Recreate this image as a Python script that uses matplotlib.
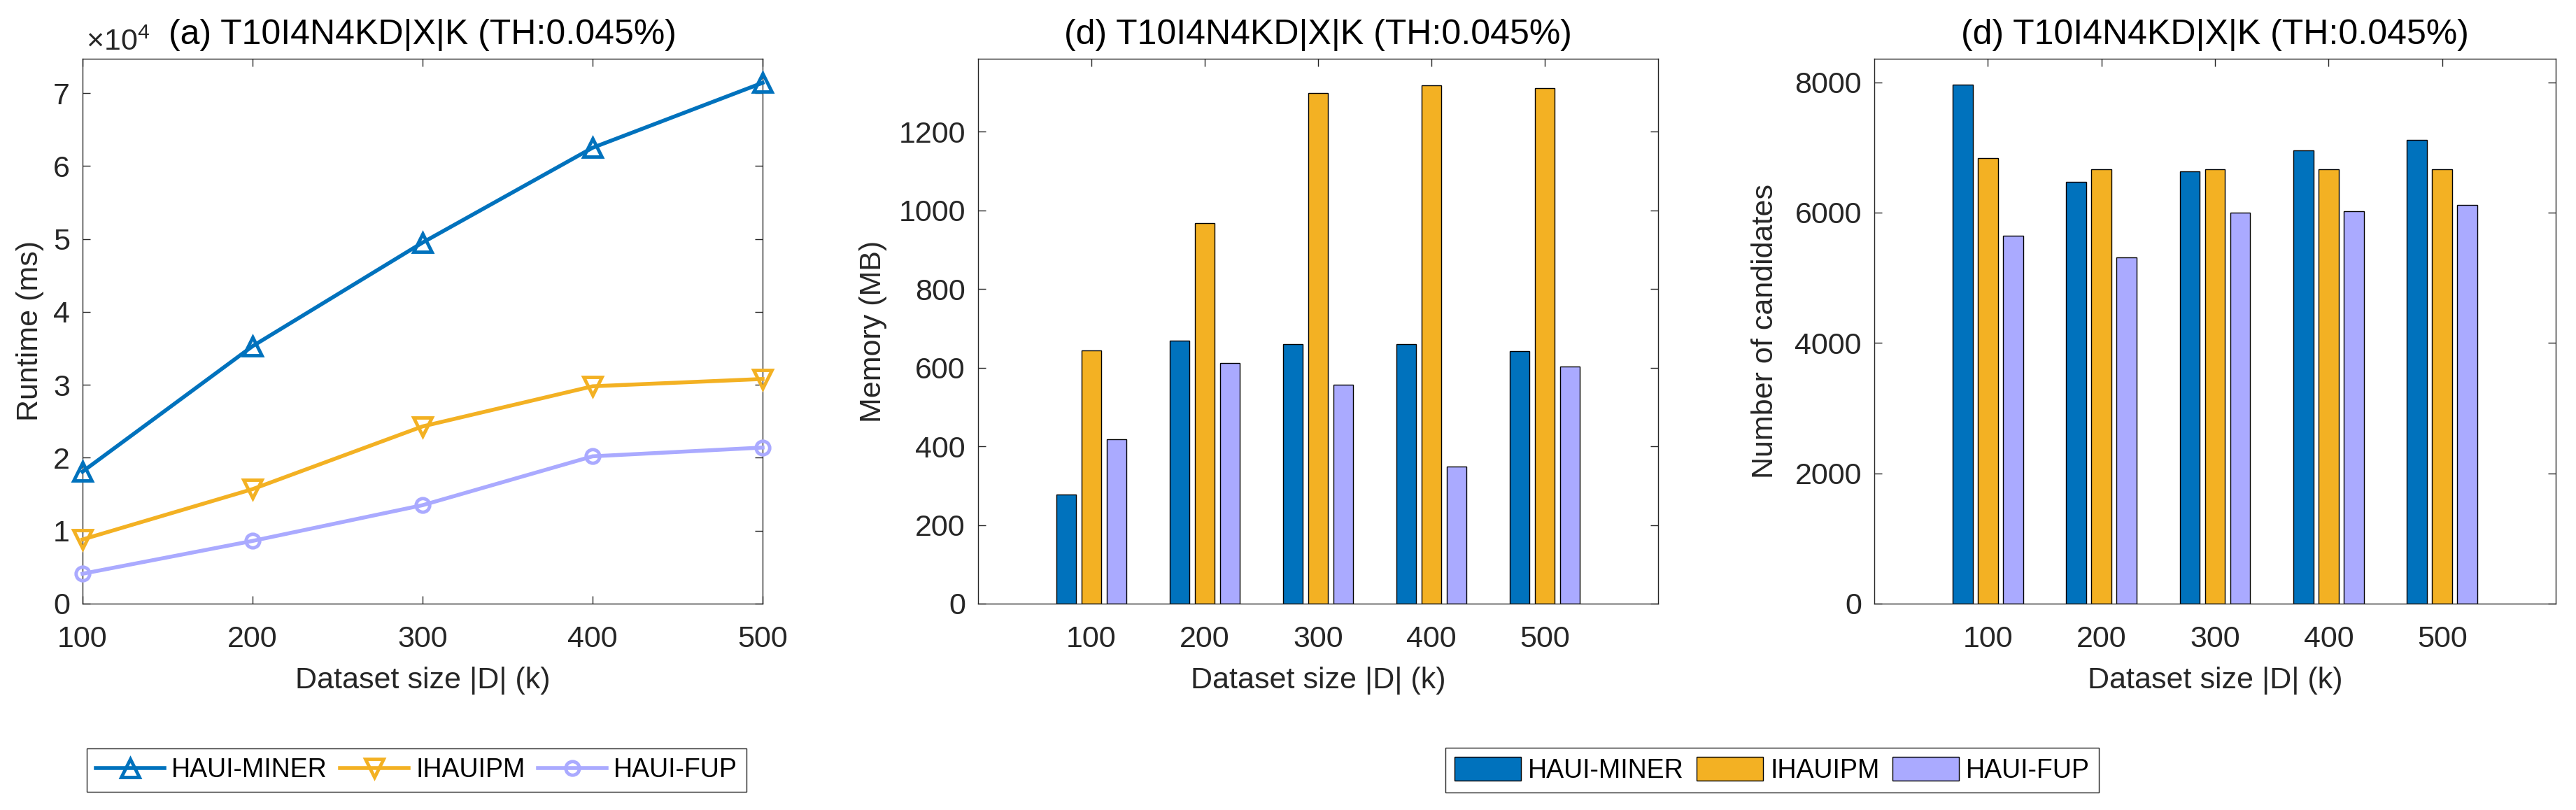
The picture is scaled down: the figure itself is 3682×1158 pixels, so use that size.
"""
plot.py
-------
Runtime / memory / candidate comparison of HAUI-MINER, IHAUIPM and HAUI-FUP
on T10I4N4KD|X|K with a growing dataset size.
"""

import numpy as np
import matplotlib
matplotlib.use("Agg")
import matplotlib.pyplot as plt

# ---------------------------------------------------------------------------
# Data
# ---------------------------------------------------------------------------
ALGORITHMS = ["HAUI-MINER", "IHAUIPM", "HAUI-FUP"]
DATASET_SIZES = [100, 200, 300, 400, 500]  # |D| in k

# runtime in ms
RUNTIME_MINER = [18100, 35300, 49500, 62500, 71400]
RUNTIME_IHAUIPM = [8800, 15700, 24300, 29800, 30800]
RUNTIME_FUP = [4100, 8600, 13500, 20200, 21400]

# memory in MB
MEMORY_MINER = [278, 669, 660, 660, 642]
MEMORY_IHAUIPM = [643, 967, 1298, 1317, 1310]
MEMORY_FUP = [418, 611, 556, 348, 603]

# number of candidates
CAND_MINER = [7963, 6476, 6637, 6955, 7117]
CAND_IHAUIPM = [6840, 6668, 6668, 6668, 6668]
CAND_FUP = [5644, 5317, 6000, 6024, 6117]

TITLE_A = "(a) T10I4N4KD|X|K (TH:0.045%)"
TITLE_D = "(d) T10I4N4KD|X|K (TH:0.045%)"
XLABEL = "Dataset size |D| (k)"

# ---------------------------------------------------------------------------
# Style
# ---------------------------------------------------------------------------
COLORS = ["#0072BD", "#F3B123", "#AAAAFF"]
MARKERS = ["^", "v", "o"]
MARKER_SIZES = [19, 19, 14]
AX_COLOR = "#262626"

plt.rcParams["font.family"] = ["Liberation Sans", "DejaVu Sans"]
plt.rcParams["mathtext.fontset"] = "custom"
plt.rcParams["mathtext.rm"] = "Liberation Sans"
plt.rcParams["mathtext.it"] = "Liberation Sans:italic"

FIG_W, FIG_H = 3682, 1158
DPI = 100


def px_box(x0, x1, y0, y1):
    """Axes rectangle from pixel edges (top-left origin) to figure fractions."""
    return [x0 / FIG_W, 1 - y1 / FIG_H, (x1 - x0) / FIG_W, (y1 - y0) / FIG_H]


def style_axes(ax, ylabel, ylabel_x):
    for sp in ax.spines.values():
        sp.set_color(AX_COLOR)
        sp.set_linewidth(1.0)
    ax.tick_params(direction="in", length=7.7, width=1.0, color=AX_COLOR,
                   labelcolor=AX_COLOR, labelsize=31, top=True, right=True)
    ax.tick_params(axis="x", pad=22)
    ax.tick_params(axis="y", pad=13)
    ax.set_xlabel(XLABEL, fontsize=31, color=AX_COLOR)
    ax.xaxis.set_label_coords(0.5, -0.115)
    ax.set_ylabel(ylabel, fontsize=31, color=AX_COLOR)
    ax.yaxis.set_label_coords(ylabel_x, 0.5)


def grouped_bars(ax, series, ylim, yticks):
    x = np.array(DATASET_SIZES, dtype=float)
    slot = 22.2  # spacing between bars inside a group
    width = 17.8
    for i, (vals, color) in enumerate(zip(series, COLORS)):
        ax.bar(x + (i - 1) * slot, vals, width=width, color=color,
               edgecolor="black", linewidth=1.0, label=ALGORITHMS[i], zorder=2)
    ax.set_xlim(0, 600)
    ax.set_xticks(DATASET_SIZES)
    ax.set_ylim(*ylim)
    ax.set_yticks(yticks)


fig = plt.figure(figsize=(FIG_W / DPI, FIG_H / DPI), dpi=DPI)

ax1 = fig.add_axes(px_box(118, 1090, 84, 863))
ax2 = fig.add_axes(px_box(1398, 2370, 84, 863))
ax3 = fig.add_axes(px_box(2679, 3653, 84, 863))

# --- (a) runtime -----------------------------------------------------------
runtimes = [RUNTIME_MINER, RUNTIME_IHAUIPM, RUNTIME_FUP]
for vals, color, mk, ms, name in zip(runtimes, COLORS, MARKERS, MARKER_SIZES, ALGORITHMS):
    ax1.plot(DATASET_SIZES, vals, color=color, linewidth=4.0, marker=mk,
             markersize=ms, markerfacecolor="none", markeredgewidth=3.5,
             label=name, clip_on=False, zorder=3)
ax1.set_xlim(100, 500)
ax1.set_xticks(DATASET_SIZES)
ax1.set_ylim(0, 74700)
ax1.set_yticks(np.arange(0, 8) * 1e4)
ax1.yaxis.set_major_formatter(plt.FuncFormatter(lambda v, p: f"{v / 1e4:g}"))
ax1.text(0.005, 1.0154, r"$\times\mathregular{10^{4}}$", transform=ax1.transAxes,
         fontsize=31, color=AX_COLOR, va="baseline", ha="left")
style_axes(ax1, "Runtime (ms)", -0.0566)
ax1.set_title(TITLE_A, fontsize=36, color="black", pad=15)

# --- (d) memory ------------------------------------------------------------
grouped_bars(ax2, [MEMORY_MINER, MEMORY_IHAUIPM, MEMORY_FUP],
             (0, 1385), np.arange(0, 1201, 200))
style_axes(ax2, "Memory (MB)", -0.134)
ax2.set_title(TITLE_D, fontsize=36, color="black", pad=15)

# --- (d) candidates --------------------------------------------------------
grouped_bars(ax3, [CAND_MINER, CAND_IHAUIPM, CAND_FUP],
             (0, 8360), np.arange(0, 8001, 2000))
style_axes(ax3, "Number of candidates", -0.14)
ax3.set_title(TITLE_D, fontsize=36, color="black", pad=15)

# --- legends ---------------------------------------------------------------
legend_kw = dict(loc="center", ncol=3, fontsize=27, frameon=True, fancybox=False,
                 edgecolor=AX_COLOR, framealpha=1, borderpad=0.35,
                 handletextpad=0.27, columnspacing=0.5, borderaxespad=0)

h1, l1 = ax1.get_legend_handles_labels()
leg1 = fig.legend(h1, l1, bbox_to_anchor=(595.5 / FIG_W, 1 - 1101 / FIG_H),
                  handlelength=2.6, numpoints=1, **legend_kw)
leg1.get_frame().set_linewidth(1.0)

h2, l2 = ax2.get_legend_handles_labels()
leg2 = fig.legend(h2, l2, bbox_to_anchor=(2533 / FIG_W, 1 - 1101 / FIG_H),
                  handlelength=2.53, handleheight=1.0, **legend_kw)
leg2.get_frame().set_linewidth(1.0)

fig.savefig("out.png", dpi=DPI)
